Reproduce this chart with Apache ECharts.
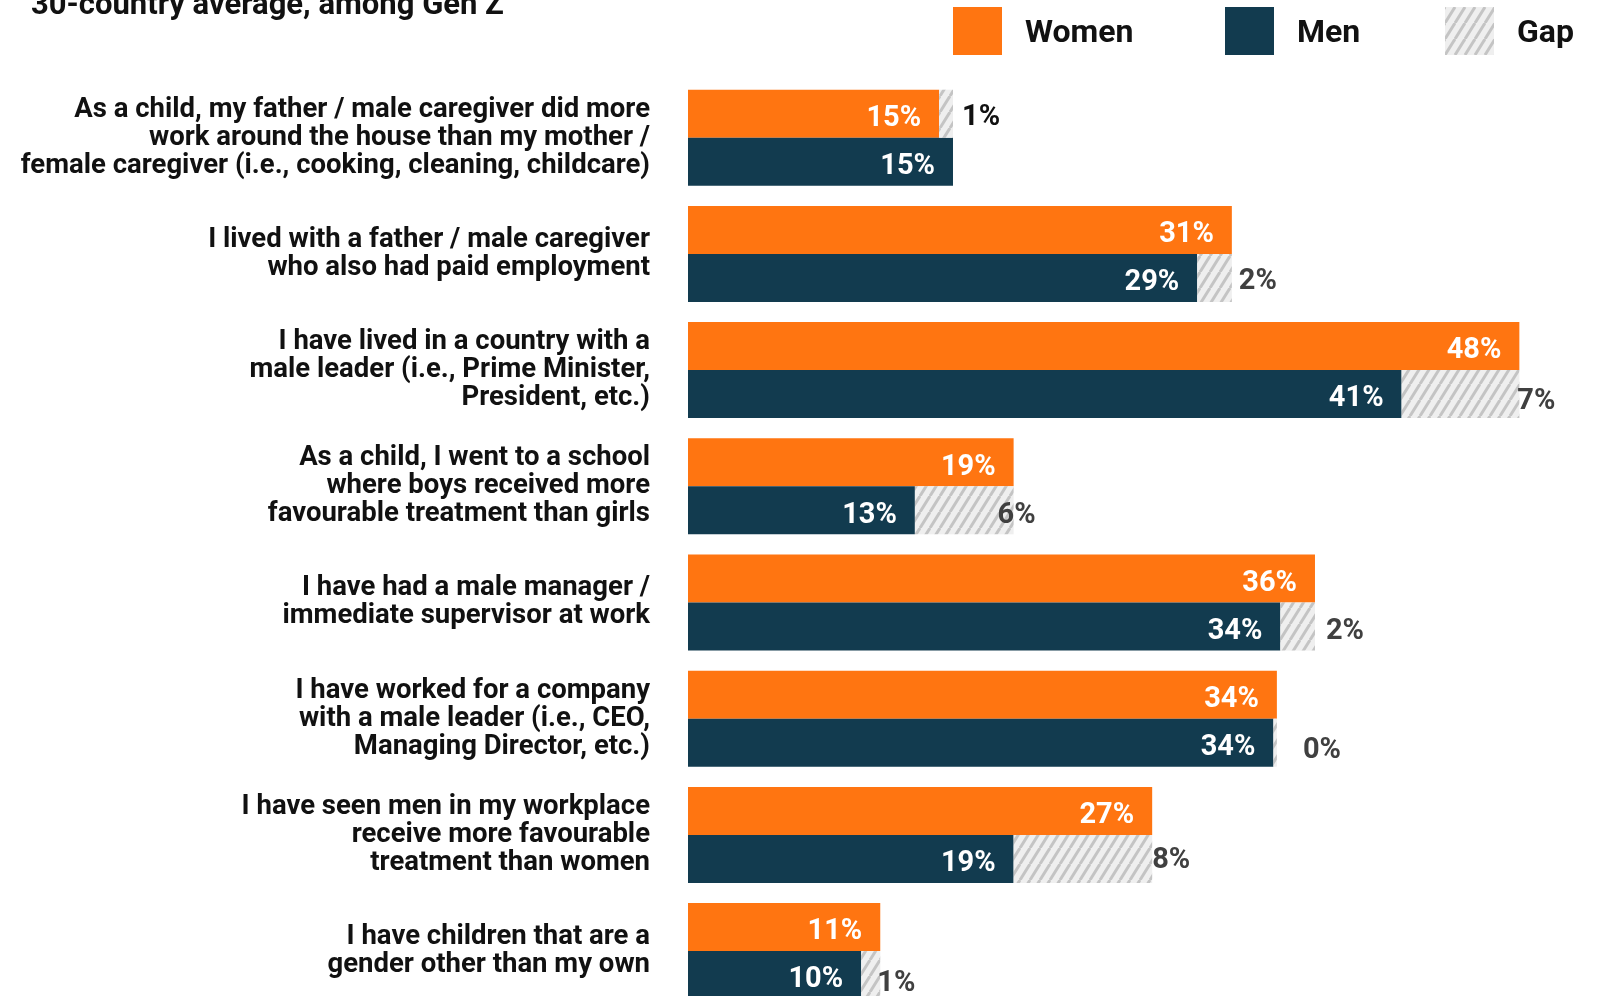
<!DOCTYPE html>
<html><head><meta charset="utf-8">
<script src="https://cdn.jsdelivr.net/npm/echarts@6/dist/echarts.min.js"></script>
<style>html,body{margin:0;padding:0;background:#fff}#c{width:1598px;height:996px}</style>
</head><body><div id="c"></div>
<script>
const categories = [
  "As a child, my father / male caregiver did more\nwork around the house than my mother /\nfemale caregiver (i.e., cooking, cleaning, childcare)",
  "I lived with a father / male caregiver\nwho also had paid employment",
  "I have lived in a country with a\nmale leader (i.e., Prime Minister,\nPresident, etc.)",
  "As a child, I went to a school\nwhere boys received more\nfavourable treatment than girls",
  "I have had a male manager /\nimmediate supervisor at work",
  "I have worked for a company\nwith a male leader (i.e., CEO,\nManaging Director, etc.)",
  "I have seen men in my workplace\nreceive more favourable\ntreatment than women",
  "I have children that are a\ngender other than my own"
];
const women = [14.5, 31.4, 48.0, 18.8, 36.2, 34.0, 26.8, 11.1];
const men   = [15.3, 29.4, 41.2, 13.1, 34.2, 33.8, 18.8, 10.0];
const womenLabels = [15, 31, 48, 19, 36, 34, 27, 11];
const menLabels   = [15, 29, 41, 13, 34, 34, 19, 10];
const gapLabels   = [1, 2, 7, 6, 2, 0, 8, 1];
// label nudges [dx, dy] (layout only)
const gapLabelNudge = [[9,4],[7,4],[-2,8],[-16,5],[11,5.5],[26,8],[0,1.5],[-3,8.6]];

const FONT = "'Roboto', sans-serif";
const ORANGE = '#FF7511', NAVY = '#123B4F';

// hatch pattern
const tile = document.createElement('canvas');
tile.width = 10; tile.height = 16;
const tc = tile.getContext('2d');
tc.fillStyle = '#efefef'; tc.fillRect(0,0,10,16);
tc.strokeStyle = '#c4c4c4'; tc.lineWidth = 3;
for (const s of [-10, 0, 10]) {
  tc.beginPath(); tc.moveTo(s, 16); tc.lineTo(s + 10, 0); tc.stroke();
}
const HATCH = { image: tile, repeat: 'repeat' };

const gapW = women.map((w, i) => {
  const d = men[i] - w;
  return d > 0 ? { value: d, label: { offset: [gapLabelNudge[i][0], gapLabelNudge[i][1]] } } : '-';
});
const gapM = women.map((w, i) => {
  const d = w - men[i];
  return d >= 0 ? { value: d, label: { offset: [gapLabelNudge[i][0], gapLabelNudge[i][1]] } } : '-';
});

const valueLabel = (arr) => ({
  show: true, position: 'insideRight', distance: 18, offset: [0, 5],
  color: '#fff', fontSize: 29, fontWeight: 'bold', fontFamily: FONT,
  formatter: p => arr[p.dataIndex] + '%'
});
const gapLabel = (color) => ({
  show: true, position: 'right', distance: 0,
  color: color, fontSize: 29, fontWeight: 'bold', fontFamily: FONT,
  formatter: p => gapLabels[p.dataIndex] + '%'
});
const legendText = {
  fontSize: 32, fontWeight: 'bold', color: '#111', fontFamily: FONT, padding: [0, 0, 0, 18],
  rich: { t: { fontSize: 32, fontWeight: 'bold', color: '#111', fontFamily: FONT, padding: [6, 0, 0, 0] } }
};
const mkLegend = (name, left) => ({
  data: [name], left: left, top: 7, padding: 0, icon: 'rect', itemWidth: 49, itemHeight: 48,
  textStyle: legendText, selectedMode: false, formatter: '{t|{name}}'
});

const chart = echarts.init(document.getElementById('c'), null, { renderer: 'canvas' });
chart.setOption({
  animation: false,
  backgroundColor: '#fff',
  title: {
    text: '30-country average, among Gen Z', left: 31, top: -9, padding: 0,
    textStyle: { fontSize: 31, fontWeight: 'bold', color: '#111', fontFamily: FONT }
  },
  legend: [mkLegend('Women', 953), mkLegend('Men', 1225), mkLegend('Gap', 1445)],
  grid: { left: 688, right: 44, top: 79.6, height: 929.6, containLabel: false, outerBoundsMode: 'none' },
  xAxis: { type: 'value', min: 0, max: 50, show: false, splitLine: { show: false } },
  yAxis: {
    type: 'category', inverse: true, data: categories,
    axisLine: { show: false }, axisTick: { show: false }, splitLine: { show: false },
    axisLabel: {
      margin: 38, fontSize: 27.5, fontWeight: 'bold', color: '#111', lineHeight: 28,
      fontFamily: FONT, align: 'right'
    }
  },
  series: [
    { name: 'Women', type: 'bar', stack: 'w', barWidth: 48, barGap: '0%', data: women,
      itemStyle: { color: ORANGE }, label: valueLabel(womenLabels) },
    { name: 'Men', type: 'bar', stack: 'm', barWidth: 48, barGap: '0%', data: men,
      itemStyle: { color: NAVY }, label: valueLabel(menLabels) },
    { name: 'Gap', type: 'bar', stack: 'w', barWidth: 48, barGap: '0%', data: gapW,
      itemStyle: { color: HATCH }, label: gapLabel('#111') },
    { name: 'Gap', type: 'bar', stack: 'm', barWidth: 48, barGap: '0%', data: gapM,
      itemStyle: { color: HATCH }, label: gapLabel('#404040') }
  ]
});
</script></body></html>
